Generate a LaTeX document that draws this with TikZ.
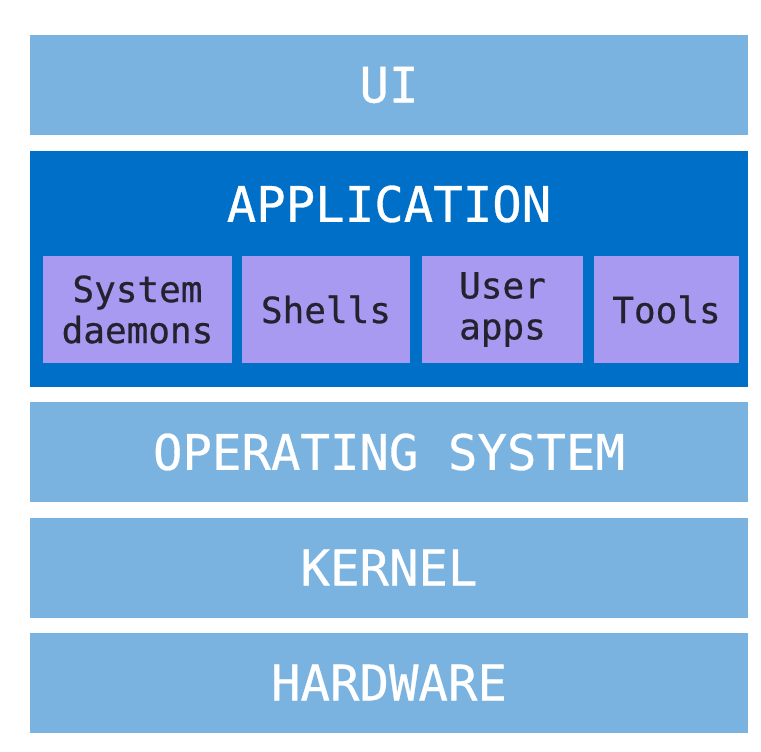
\documentclass[tikz,border=0pt]{standalone}
\usepackage{fontspec}
\usepackage{tikz}
\newfontfamily\layerfont[FakeBold=0.6]{DejaVu Sans Mono}
\definecolor{layerblue}{HTML}{7AB3E0}
\definecolor{appblue}{HTML}{006FC8}
\definecolor{progpurple}{HTML}{A79AF0}
\definecolor{progtext}{HTML}{24222E}
\tikzset{
	layer/.style={fill=layerblue, minimum width=718pt, minimum height=100pt, inner sep=0pt, text=white, font=\layerfont\fontsize{49}{50}\selectfont},
	prog/.style={fill=progpurple, minimum height=107pt, inner sep=0pt, text=progtext, align=center, font=\layerfont\fontsize{36}{41}\selectfont}
}

\begin{document}
\begin{tikzpicture}[x=1pt, y=-1pt]
			%%%%% START %%%%%
			\useasboundingbox[fill=white] (0, 0) rectangle (761, 752);
			
			\node[layer] (ui) at (389, 85) {UI};
			
			\node[fill=appblue, minimum width=718pt, minimum height=236pt, inner sep=0pt] (app) at (389, 269) {};
			\node[text=white, font=\layerfont\fontsize{49}{50}\selectfont] (apptitle) at (389, 204) {APPLICATION};
			
			\node[prog, minimum width=189pt] (daemons) at (137.5, 309.5) {System\\daemons};
			\node[prog, minimum width=168pt] (shells) at (326, 309.5) {Shells};
			\node[prog, minimum width=161pt] (userapps) at (502.5, 309.5) {User\\apps};
			\node[prog, minimum width=145pt] (tools) at (666.5, 309.5) {Tools};
			
			\node[layer] (os) at (389, 452) {OPERATING SYSTEM};
			\node[layer] (kernel) at (389, 567.5) {KERNEL};
			\node[layer] (hw) at (389, 682.5) {HARDWARE};
			
			%%%%% END %%%%%
		\end{tikzpicture}
\end{document}
